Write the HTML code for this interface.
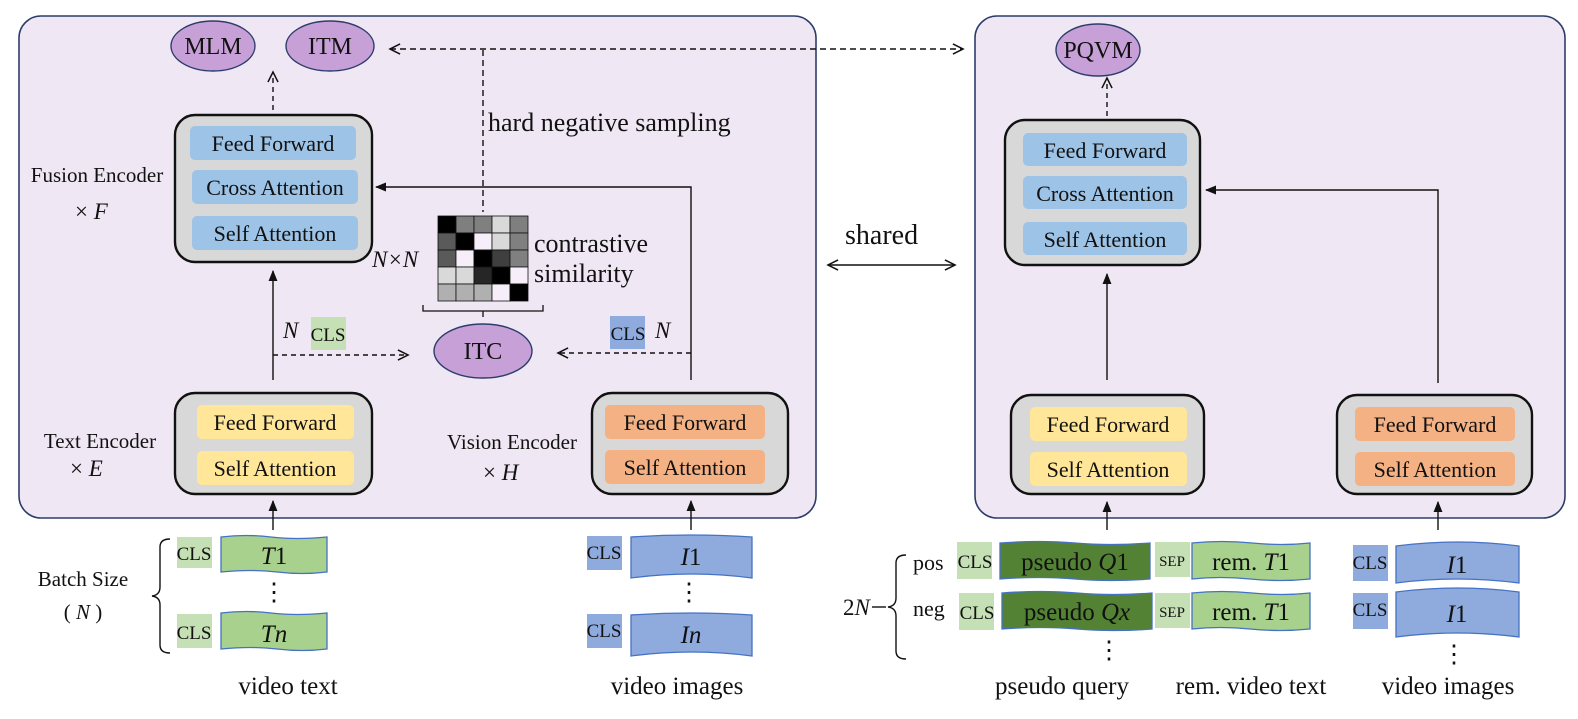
<!DOCTYPE html>
<html><head><meta charset="utf-8"><style>
html,body{margin:0;padding:0;background:#fff;width:1578px;height:719px;overflow:hidden}
svg text{font-family:"Liberation Serif",serif;fill:#111}
.it{font-style:italic}
</style></head><body>
<svg width="1578" height="719" viewBox="0 0 1578 719" xmlns="http://www.w3.org/2000/svg">
<defs>
<marker id="a" viewBox="0 0 10 10" refX="9" refY="5" markerWidth="8" markerHeight="8" orient="auto-start-reverse"><path d="M0,1 L10,5 L0,9 z" fill="#111"/></marker>
<marker id="o" viewBox="0 0 10 10" refX="9" refY="5" markerWidth="9" markerHeight="9" orient="auto-start-reverse"><path d="M1,1 L9,5 L1,9" fill="none" stroke="#111" stroke-width="1.2"/></marker>
</defs>
<rect x="19" y="16" width="797" height="502" rx="22" fill="#efe7f3" stroke="#2d3d6b" stroke-width="1.6"/>
<rect x="975" y="16" width="590" height="502" rx="22" fill="#efe7f3" stroke="#2d3d6b" stroke-width="1.6"/>

<g fill="#c8a0d8" stroke="#2d3d6b" stroke-width="1.4">
<ellipse cx="213" cy="46" rx="42" ry="25"/>
<ellipse cx="330" cy="46" rx="44" ry="25"/>
<ellipse cx="1098" cy="50" rx="42" ry="26"/>
<ellipse cx="483" cy="351" rx="49" ry="27"/>
</g>
<g font-size="24" text-anchor="middle">
<text x="213" y="54">MLM</text><text x="330" y="54">ITM</text><text x="1098" y="58">PQVM</text><text x="483" y="359">ITC</text>
</g>

<g fill="#d8d8d8" stroke="#111" stroke-width="2.4">
<rect x="175" y="115" width="197" height="147" rx="20"/>
<rect x="175" y="393" width="197" height="101" rx="20"/>
<rect x="592" y="393" width="196" height="101" rx="20"/>
<rect x="1005" y="120" width="195" height="145" rx="20"/>
<rect x="1011" y="395" width="193" height="99" rx="20"/>
<rect x="1337" y="395" width="195" height="99" rx="20"/>
</g>
<g fill="#9dc3e6">
<rect x="190" y="126" width="166" height="34" rx="5"/>
<rect x="192" y="170" width="166" height="34" rx="5"/>
<rect x="192" y="216" width="166" height="34" rx="5"/>
<rect x="1023" y="133" width="164" height="33" rx="5"/>
<rect x="1023" y="176" width="164" height="33" rx="5"/>
<rect x="1023" y="222" width="164" height="33" rx="5"/>
</g>
<g fill="#ffe699">
<rect x="197" y="405" width="157" height="34" rx="5"/>
<rect x="197" y="451" width="157" height="34" rx="5"/>
<rect x="1030" y="407" width="157" height="34" rx="5"/>
<rect x="1030" y="452" width="157" height="34" rx="5"/>
</g>
<g fill="#f4b183">
<rect x="605" y="405" width="160" height="34" rx="5"/>
<rect x="605" y="450" width="160" height="34" rx="5"/>
<rect x="1355" y="407" width="160" height="34" rx="5"/>
<rect x="1355" y="452" width="160" height="34" rx="5"/>
</g>
<g font-size="22" text-anchor="middle">
<text x="273" y="151">Feed Forward</text><text x="275" y="195">Cross Attention</text><text x="275" y="241">Self Attention</text>
<text x="275" y="430">Feed Forward</text><text x="275" y="476">Self Attention</text>
<text x="685" y="430">Feed Forward</text><text x="685" y="475">Self Attention</text>
<text x="1105" y="158">Feed Forward</text><text x="1105" y="201">Cross Attention</text><text x="1105" y="247">Self Attention</text>
<text x="1108" y="432">Feed Forward</text><text x="1108" y="477">Self Attention</text>
<text x="1435" y="432">Feed Forward</text><text x="1435" y="477">Self Attention</text>
</g>

<g font-size="21" text-anchor="middle">
<text x="97" y="182">Fusion Encoder</text>
<text x="100" y="448">Text Encoder</text>
<text x="512" y="449">Vision Encoder</text>
<text x="83" y="586">Batch Size</text>
<text x="83" y="619">( <tspan class="it">N</tspan> )</text>
</g>
<g font-size="23">
<text x="75" y="219">× <tspan class="it">F</tspan></text>
<text x="70" y="476">× <tspan class="it">E</tspan></text>
<text x="483" y="480">× <tspan class="it">H</tspan></text>
<text x="488" y="131" font-size="26">hard negative sampling</text>
<text x="534" y="252" font-size="26">contrastive</text>
<text x="534" y="282" font-size="26">similarity</text>
<text x="372" y="267" class="it">N×N</text>
<text x="845" y="244" font-size="28">shared</text>
<text x="283" y="338" class="it">N</text>
<text x="655" y="338" class="it">N</text>
</g>
<rect x="311" y="317" width="35" height="33" fill="#c5e0b4"/>
<text x="328" y="341" font-size="19" text-anchor="middle">CLS</text>
<rect x="610" y="316" width="35" height="33" fill="#8faadc"/>
<text x="628" y="340" font-size="19" text-anchor="middle">CLS</text>

<g stroke="#111" stroke-width="0.8">
<rect x="438" y="216" width="18" height="17" fill="#000"/><rect x="456" y="216" width="18" height="17" fill="#7f7f7f"/><rect x="474" y="216" width="18" height="17" fill="#808080"/><rect x="492" y="216" width="18" height="17" fill="#d9d9d9"/><rect x="510" y="216" width="18" height="17" fill="#7f7f7f"/>
<rect x="438" y="233" width="18" height="17" fill="#5a5a5a"/><rect x="456" y="233" width="18" height="17" fill="#000"/><rect x="474" y="233" width="18" height="17" fill="#f6eef8"/><rect x="492" y="233" width="18" height="17" fill="#d9d9d9"/><rect x="510" y="233" width="18" height="17" fill="#808080"/>
<rect x="438" y="250" width="18" height="17" fill="#5a5a5a"/><rect x="456" y="250" width="18" height="17" fill="#f6eef8"/><rect x="474" y="250" width="18" height="17" fill="#000"/><rect x="492" y="250" width="18" height="17" fill="#3f3f3f"/><rect x="510" y="250" width="18" height="17" fill="#808080"/>
<rect x="438" y="267" width="18" height="17" fill="#d9d9d9"/><rect x="456" y="267" width="18" height="17" fill="#d9d9d9"/><rect x="474" y="267" width="18" height="17" fill="#262626"/><rect x="492" y="267" width="18" height="17" fill="#000"/><rect x="510" y="267" width="18" height="17" fill="#f6eef8"/>
<rect x="438" y="284" width="18" height="17" fill="#b0b0b0"/><rect x="456" y="284" width="18" height="17" fill="#b0b0b0"/><rect x="474" y="284" width="18" height="17" fill="#b0b0b0"/><rect x="492" y="284" width="18" height="17" fill="#f6eef8"/><rect x="510" y="284" width="18" height="17" fill="#000"/>
</g>
<path d="M423,305 v6 h60 v6 M483,311 h60 v-6" fill="none" stroke="#111" stroke-width="1.3"/>

<g stroke="#111" stroke-width="1.4" fill="none">
<line x1="273" y1="110" x2="273" y2="72" stroke-dasharray="5,4" marker-end="url(#o)"/>
<line x1="1107" y1="116" x2="1107" y2="78" stroke-dasharray="5,4" marker-end="url(#o)"/>
<line x1="390" y1="49" x2="963" y2="49" stroke-dasharray="6,4" marker-start="url(#o)" marker-end="url(#o)"/>
<line x1="483" y1="50" x2="483" y2="212" stroke-dasharray="6,4"/>
<line x1="273" y1="380" x2="273" y2="271" marker-end="url(#a)"/>
<line x1="273" y1="355" x2="408" y2="355" stroke-dasharray="5,4" marker-end="url(#o)"/>
<path d="M691,380 V187 H376" marker-end="url(#a)"/>
<line x1="691" y1="353" x2="558" y2="353" stroke-dasharray="5,4" marker-end="url(#o)"/>
<line x1="828" y1="265" x2="955" y2="265" marker-start="url(#o)" marker-end="url(#o)"/>
<line x1="1107" y1="380" x2="1107" y2="274" marker-end="url(#a)"/>
<path d="M1438,383 V190 H1206" marker-end="url(#a)"/>
<line x1="273" y1="530" x2="273" y2="501" marker-end="url(#a)"/>
<line x1="691" y1="530" x2="691" y2="501" marker-end="url(#a)"/>
<line x1="1107" y1="530" x2="1107" y2="502" marker-end="url(#a)"/>
<line x1="1438" y1="530" x2="1438" y2="502" marker-end="url(#a)"/>
<path d="M170,539 q-10,0 -10,8 v40 q0,8 -8,9 q8,1 8,9 v40 q0,8 10,8"/>
<path d="M906,555 q-10,0 -10,8 v35 q0,8 -8,9 q8,1 8,9 v35 q0,8 10,8"/>
<line x1="872" y1="607" x2="886" y2="607"/>
</g>

<g fill="#c5e0b4"><rect x="177" y="537" width="35" height="31"/><rect x="177" y="614" width="35" height="34"/>
<rect x="957" y="542" width="35" height="37"/><rect x="959" y="593" width="35" height="37"/>
<rect x="1155" y="542" width="35" height="35"/><rect x="1155" y="593" width="35" height="35"/></g>
<g fill="#8faadc"><rect x="587" y="536" width="35" height="34"/><rect x="587" y="614" width="35" height="34"/>
<rect x="1353" y="545" width="35" height="36"/><rect x="1353" y="593" width="35" height="36"/></g>
<g stroke="#4472c4" stroke-width="1.3">
<path d="M221,537 q25,-3 50,0 t56,0 v35 q-25,3 -50,0 t-56,0 z" fill="#a9d18e"/>
<path d="M221,613 q25,-3 50,0 t56,0 v36 q-25,3 -50,0 t-56,0 z" fill="#a9d18e"/>
<path d="M631,537 q60,-4 121,0 v41 q-60,-8 -121,0 z" fill="#8faadc"/>
<path d="M631,615 q60,-4 121,0 v41 q-60,-8 -121,0 z" fill="#8faadc"/>
<path d="M1000,543 q40,-3 75,0 t75,0 v36 q-40,3 -75,0 t-75,0 z" fill="#548235"/>
<path d="M1002,593 q40,-3 75,0 t75,0 v36 q-40,3 -75,0 t-75,0 z" fill="#548235"/>
<path d="M1192,543 q30,-3 60,0 t58,0 v36 q-30,3 -60,0 t-58,0 z" fill="#a9d18e"/>
<path d="M1192,593 q30,-3 60,0 t58,0 v36 q-30,3 -60,0 t-58,0 z" fill="#a9d18e"/>
<path d="M1396,546 q62,-8 123,0 v37 q-62,-8 -123,0 z" fill="#8faadc"/>
<path d="M1396,592 q62,-8 123,0 v45 q-62,-8 -123,0 z" fill="#8faadc"/>
</g>
<g font-size="19" text-anchor="middle">
<text x="194" y="560">CLS</text><text x="194" y="639">CLS</text>
<text x="604" y="559">CLS</text><text x="604" y="637">CLS</text>
<text x="975" y="568">CLS</text><text x="977" y="619">CLS</text>
<text x="1370" y="569">CLS</text><text x="1370" y="616">CLS</text>
<text x="1172" y="566" font-size="15">SEP</text><text x="1172" y="617" font-size="15">SEP</text>
</g>
<g font-size="25" text-anchor="middle">
<text x="274" y="564"><tspan class="it">T</tspan>1</text>
<text x="274" y="642" class="it">Tn</text>
<text x="691" y="565"><tspan class="it">I</tspan>1</text>
<text x="691" y="643" class="it">In</text>
<text x="1075" y="570">pseudo <tspan class="it">Q</tspan>1</text>
<text x="1077" y="620">pseudo <tspan class="it">Qx</tspan></text>
<text x="1251" y="570">rem. <tspan class="it">T</tspan>1</text>
<text x="1251" y="620">rem. <tspan class="it">T</tspan>1</text>
<text x="1457" y="573"><tspan class="it">I</tspan>1</text>
<text x="1457" y="622"><tspan class="it">I</tspan>1</text>
<text x="274" y="600">⋮</text><text x="689" y="600">⋮</text><text x="1109" y="658">⋮</text><text x="1454" y="662">⋮</text>
</g>
<g font-size="22"><text x="913" y="570">pos</text><text x="913" y="616">neg</text></g>
<text x="843" y="615" font-size="23">2<tspan class="it">N</tspan></text>
<g font-size="25" text-anchor="middle">
<text x="288" y="694">video text</text><text x="677" y="694">video images</text>
<text x="1062" y="694">pseudo query</text><text x="1251" y="694">rem. video text</text><text x="1448" y="694">video images</text>
</g>
</svg>
</body></html>
